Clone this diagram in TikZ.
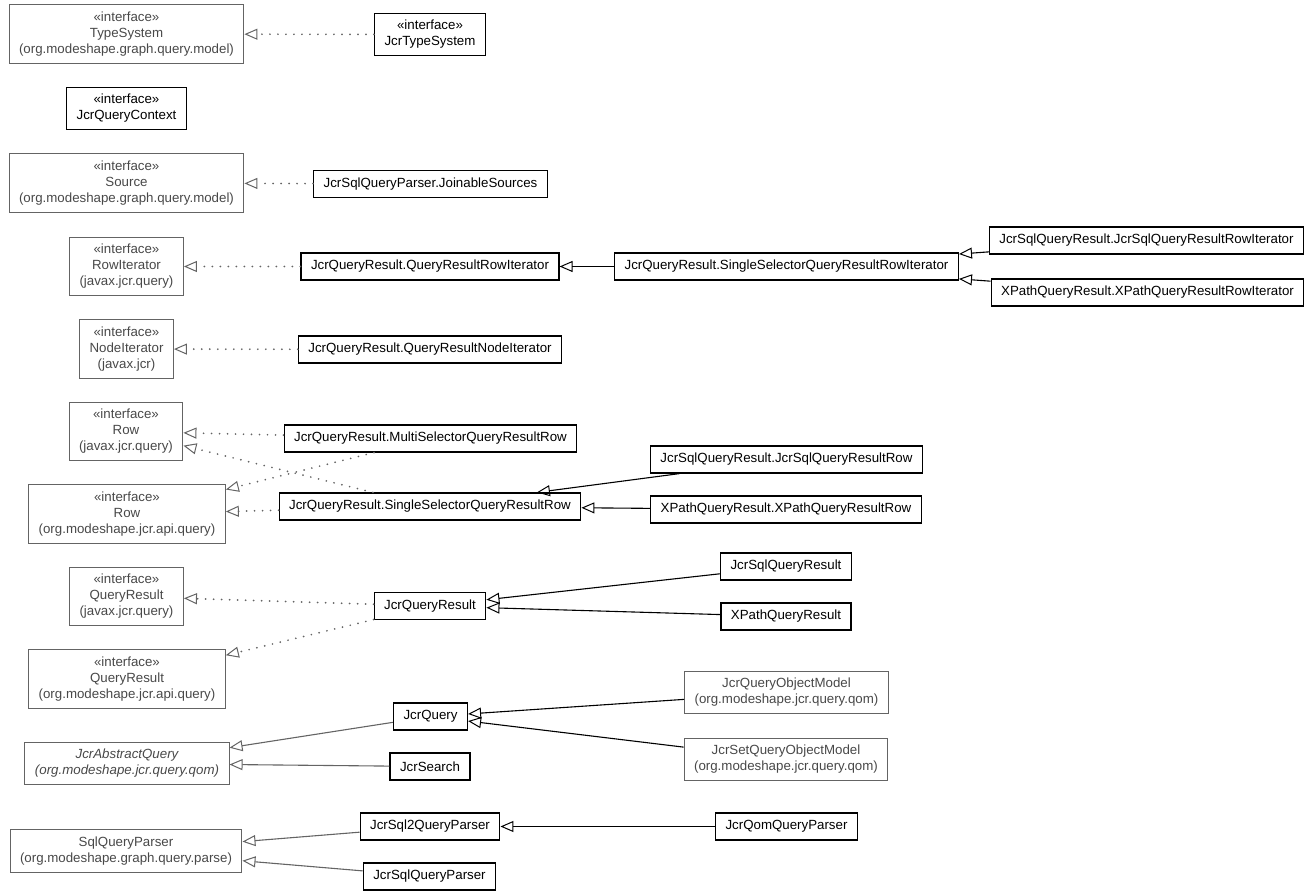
\documentclass[tikz,border=0pt]{standalone}
\usepackage{fontspec}
\setmainfont{Liberation Sans}
\usetikzlibrary{arrows.meta}

\definecolor{extgray}{RGB}{100,100,100}
\definecolor{exttext}{RGB}{72,72,72}

\begin{document}
\begin{tikzpicture}[x=1pt, y=-1pt,
    >={Triangle[open, length=13pt, width=11pt, line width=1pt]},
    classbox/.style={draw, line width=1.2pt, align=center, inner xsep=10pt,
      inner ysep=7pt, minimum height=27pt, font=\fontsize{13.3}{16}\selectfont},
    extbox/.style={classbox, draw=extgray, text=exttext, line width=1pt},
    realizes/.style={->, extgray, line width=1.9pt, line cap=round,
      dash pattern=on 0pt off 8pt},
    inherits/.style={->, line width=1.1pt}]

  \useasboundingbox (0,0) rectangle (1312,896);

  %%%%%%%%%%%%%%%%%%%%%%%%%%%%%%%%%%%%%%%%%%%%%%%%%
  % Interfaces and base classes (left column)
  \node[extbox] (ts) at (126.5,34) {«interface»\\TypeSystem\\(org.modeshape.graph.query.model)};
  \node[classbox] (jqc) at (126.5,108.5) {«interface»\\JcrQueryContext};
  \node[extbox] (src) at (126.5,183) {«interface»\\Source\\(org.modeshape.graph.query.model)};
  \node[extbox] (rowit) at (126.5,266.5) {«interface»\\RowIterator\\(javax.jcr.query)};
  \node[extbox] (nodeit) at (126.5,349) {«interface»\\NodeIterator\\(javax.jcr)};
  \node[extbox] (rowj) at (126,431.5) {«interface»\\Row\\(javax.jcr.query)};
  \node[extbox] (rowm) at (127,514) {«interface»\\Row\\(org.modeshape.jcr.api.query)};
  \node[extbox] (qrj) at (126.5,596.5) {«interface»\\QueryResult\\(javax.jcr.query)};
  \node[extbox] (qrm) at (127,679) {«interface»\\QueryResult\\(org.modeshape.jcr.api.query)};
  \node[extbox, font=\fontsize{13.3}{16}\selectfont\itshape] (aq) at (127,763.5)
    {JcrAbstractQuery\\(org.modeshape.jcr.query.qom)};
  \node[extbox] (sqp) at (126,851) {SqlQueryParser\\(org.modeshape.graph.query.parse)};

  %%%%%%%%%%%%%%%%%%%%%%%%%%%%%%%%%%%%%%%%%%%%%%%%%
  % Middle column
  \node[classbox] (jts) at (430,34.5) {«interface»\\JcrTypeSystem};
  \node[classbox] (js) at (430.5,184) {JcrSqlQueryParser.JoinableSources};
  \node[classbox] (qrri) at (430,266.5) {JcrQueryResult.QueryResultRowIterator};
  \node[classbox] (qrni) at (430,349.5) {JcrQueryResult.QueryResultNodeIterator};
  \node[classbox] (msr) at (430.5,438.5) {JcrQueryResult.MultiSelectorQueryResultRow};
  \node[classbox] (ssr) at (430,506.5) {JcrQueryResult.SingleSelectorQueryResultRow};
  \node[classbox] (jqr) at (430,606) {JcrQueryResult};
  \node[classbox] (jq) at (430.5,716.5) {JcrQuery};
  \node[classbox] (jsearch) at (430,766.5) {JcrSearch};
  \node[classbox] (sql2) at (430,826.5) {JcrSql2QueryParser};
  \node[classbox] (sqlp) at (429.5,876.5) {JcrSqlQueryParser};

  %%%%%%%%%%%%%%%%%%%%%%%%%%%%%%%%%%%%%%%%%%%%%%%%%
  % Right columns
  \node[classbox] (ssri) at (786.5,266.5) {JcrQueryResult.SingleSelectorQueryResultRowIterator};
  \node[classbox] (sqlri) at (1146.5,240.5) {JcrSqlQueryResult.JcrSqlQueryResultRowIterator};
  \node[classbox] (xpri) at (1147.5,292.5) {XPathQueryResult.XPathQueryResultRowIterator};
  \node[classbox] (sqlrow) at (786.5,459.5) {JcrSqlQueryResult.JcrSqlQueryResultRow};
  \node[classbox] (xprow) at (786,509.5) {XPathQueryResult.XPathQueryResultRow};
  \node[classbox] (sqlqr) at (786,566.5) {JcrSqlQueryResult};
  \node[classbox] (xpqr) at (786,616.5) {XPathQueryResult};
  \node[extbox] (qom) at (786.5,692.5) {JcrQueryObjectModel\\(org.modeshape.jcr.query.qom)};
  \node[extbox] (sqom) at (786,759.5) {JcrSetQueryObjectModel\\(org.modeshape.jcr.query.qom)};
  \node[classbox] (qomp) at (786.5,826.5) {JcrQomQueryParser};

  %%%%%%%%%%%%%%%%%%%%%%%%%%%%%%%%%%%%%%%%%%%%%%%%%
  % Realizations (dotted)
  \draw[realizes] (jts) -- (ts);
  \draw[realizes] (js) -- (src);
  \draw[realizes] (qrri) -- (rowit);
  \draw[realizes] (qrni) -- (nodeit);
  \draw[realizes] (msr) -- (rowj);
  \draw[realizes] (msr) -- (rowm);
  \draw[realizes] (ssr) -- (rowj);
  \draw[realizes] (ssr) -- (rowm);
  \draw[realizes] (jqr) -- (qrj);
  \draw[realizes] (jqr) -- (qrm);

  % Generalizations
  \draw[inherits] (ssri) -- (qrri);
  \draw[inherits] (sqlri) -- (ssri);
  \draw[inherits] (xpri) -- (ssri);
  \draw[inherits] (sqlrow) -- (ssr);
  \draw[inherits] (xprow) -- (ssr);
  \draw[inherits] (sqlqr) -- (jqr);
  \draw[inherits] (xpqr) -- (jqr);
  \draw[inherits] (qom) -- (jq);
  \draw[inherits] (sqom) -- (jq);
  \draw[inherits] (qomp) -- (sql2);
  \draw[inherits, extgray] (jq) -- (aq);
  \draw[inherits, extgray] (jsearch) -- (aq);
  \draw[inherits, extgray] (sql2) -- (sqp);
  \draw[inherits, extgray] (sqlp) -- (sqp);

\end{tikzpicture}
\end{document}
